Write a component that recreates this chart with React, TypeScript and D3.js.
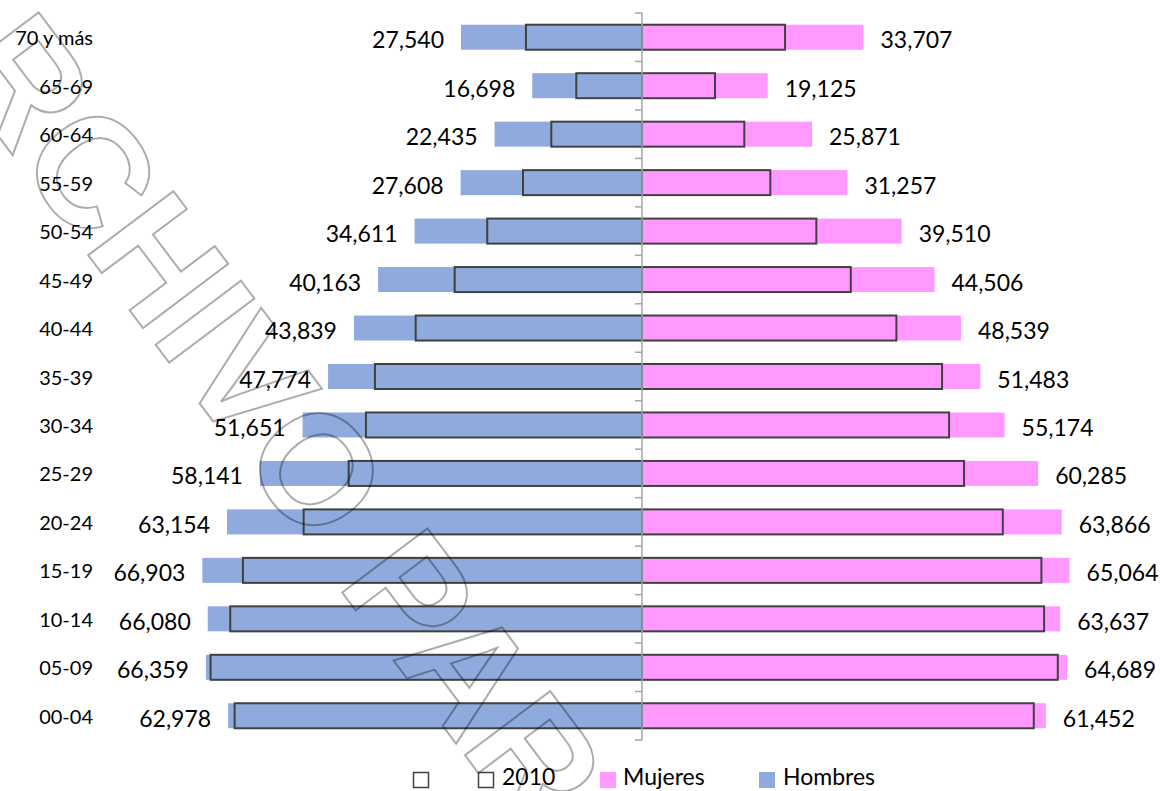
import React from 'react';
import * as d3 from 'd3';

const categories = ['70 y más', '65-69', '60-64', '55-59', '50-54', '45-49', '40-44', '35-39', '30-34', '25-29', '20-24', '15-19', '10-14', '05-09', '00-04'];
const hombres = [27540, 16698, 22435, 27608, 34611, 40163, 43839, 47774, 51651, 58141, 63154, 66903, 66080, 66359, 62978];
const mujeres = [33707, 19125, 25871, 31257, 39510, 44506, 48539, 51483, 55174, 60285, 63866, 65064, 63637, 64689, 61452];
const hombres2010 = [17660, 10000, 13800, 18110, 23550, 28510, 34440, 40640, 42010, 44640, 51490, 60730, 62660, 65650, 61990];
const mujeres2010 = [21770, 11110, 15570, 19530, 26530, 31770, 38710, 45660, 46730, 49010, 54900, 60780, 61190, 63270, 59620];
const legendLabels = ['', '2010', 'Mujeres', 'Hombres'];
const watermark = 'ARCHIVO PAR';

const W = 1160;
const H = 791;
const AXIS_X = 642;
const BLUE = '#8FAADC';
const PINK = '#FF99FF';
const OUTLINE = '#404040';
const FONT = 'Lato, "Open Sans", sans-serif';

export default function App() {
  const len = d3.scaleLinear().domain([0, 70000]).range([0, 460]);
  const y = d3.scaleBand<string>().domain(categories).range([13, 740]).paddingInner(0.484).paddingOuter(0.242);
  const bw = y.bandwidth();
  const step = y.step();
  const fmt = d3.format(',');
  const boundaries = d3.range(categories.length + 1).map((i) => 13 + i * step);

  return (
    <svg width={W} height={H} style={{ position: 'absolute', left: 0, top: 0, background: '#fff' }} fontFamily={FONT}>
      <rect x={0} y={0} width={W} height={H} fill="#fff" />
      {/* filled bars */}
      {categories.map((c, i) => (
        <g key={'f' + c}>
          <rect x={AXIS_X - len(hombres[i])} y={y(c)} width={len(hombres[i])} height={bw} fill={BLUE} />
          <rect x={AXIS_X} y={y(c)} width={len(mujeres[i])} height={bw} fill={PINK} />
        </g>
      ))}
      {/* 2010 outline bars */}
      {categories.map((c, i) => (
        <g key={'o' + c} fill="none" stroke={OUTLINE} strokeWidth={2}>
          <rect x={AXIS_X - len(hombres2010[i])} y={y(c)} width={len(hombres2010[i])} height={bw} />
          <rect x={AXIS_X} y={y(c)} width={len(mujeres2010[i])} height={bw} />
        </g>
      ))}
      {/* axis */}
      <line x1={AXIS_X} x2={AXIS_X} y1={13} y2={740} stroke="#A6A6A6" strokeWidth={1.5} />
      {boundaries.map((b, i) => (
        <line key={'t' + i} x1={AXIS_X - 7} x2={AXIS_X} y1={b} y2={b} stroke="#A6A6A6" strokeWidth={1.5} />
      ))}
      {/* category labels */}
      {categories.map((c) => (
        <text key={'c' + c} x={93} y={(y(c) as number) + bw / 2 + 8} textAnchor="end" fontSize={20} fill="#000">
          {c}
        </text>
      ))}
      {/* data labels */}
      {categories.map((c, i) => (
        <g key={'l' + c} fontSize={23} fill="#000">
          <text x={AXIS_X - len(hombres[i]) - 17} y={(y(c) as number) + bw / 2 + 11} textAnchor="end">
            {fmt(hombres[i])}
          </text>
          <text x={AXIS_X + len(mujeres[i]) + 17} y={(y(c) as number) + bw / 2 + 11} textAnchor="start">
            {fmt(mujeres[i])}
          </text>
        </g>
      ))}
      {/* legend */}
      <g fontSize={23} fill="#000">
        <rect x={413.5} y={772.5} width={15} height={15} fill="#fff" stroke={OUTLINE} strokeWidth={1.5} />
        <text x={436} y={785}>{legendLabels[0]}</text>
        <rect x={478.5} y={772.5} width={15} height={15} fill="#fff" stroke={OUTLINE} strokeWidth={1.5} />
        <text x={502} y={785}>{legendLabels[1]}</text>
        <rect x={600} y={772} width={16} height={16} fill={PINK} />
        <text x={623} y={785}>{legendLabels[2]}</text>
        <rect x={759} y={772} width={16} height={16} fill={BLUE} />
        <text x={783} y={785}>{legendLabels[3]}</text>
      </g>
      {/* watermark */}
      <text
        transform="translate(25,80) rotate(53) translate(-168,55)"
        fontFamily='"Liberation Sans", Arial, sans-serif'
        fontWeight="bold"
        fontSize={155}
        fill="none"
        stroke="#000"
        strokeOpacity={0.33}
        strokeWidth={2}
      >
        {watermark}
      </text>
    </svg>
  );
}
